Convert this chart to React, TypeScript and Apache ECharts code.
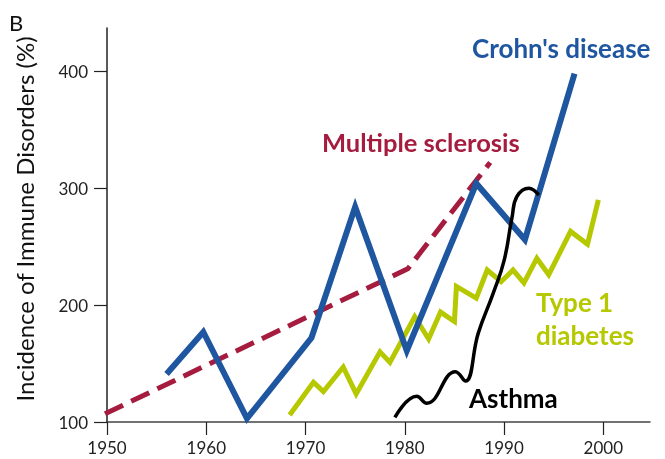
import React, { useEffect, useRef } from "react";
import * as echarts from "echarts";

const xTicks = [1950, 1960, 1970, 1980, 1990, 2000];
const yTicks = [100, 200, 300, 400];

const crohns: number[][] = [
  [1956.0, 141], [1959.7, 177], [1964.1, 103], [1970.6, 172], [1975.0, 284],
  [1980.2, 161], [1987.2, 304], [1992.1, 256], [1997.1, 398],
];
const sclerosis: number[][] = [
  [1949.8, 107], [1980.3, 231], [1988.6, 322],
];
const diabetes: number[][] = [
  [1968.4, 106], [1970.8, 134], [1971.8, 126], [1973.8, 147], [1975.1, 124],
  [1977.5, 160], [1978.5, 151], [1981.0, 190], [1982.4, 171], [1983.6, 194],
  [1985.0, 186], [1985.2, 216], [1987.2, 206], [1988.3, 230], [1989.7, 220],
  [1990.9, 230], [1992.0, 219], [1993.3, 240], [1994.5, 226], [1996.7, 263],
  [1998.4, 252], [1999.5, 290],
];
const asthma: number[][] = [
  [1979.0, 104], [1981.2, 122], [1982.2, 116], [1985.1, 143], [1986.1, 135],
  [1987.4, 176], [1988.9, 210], [1990.0, 238], [1990.8, 275],
  [1991.3, 293], [1992.5, 300], [1993.5, 294],
];

const BLUE = "#1f56a0";
const RED = "#a51c3e";
const GREEN = "#b5c800";
const FONT = "Lato";

export default function App() {
  const ref = useRef<HTMLDivElement>(null);
  useEffect(() => {
    if (!ref.current) return;
    const chart = echarts.init(ref.current, null, { renderer: "svg" });
    const label = (text: string, x: number, y: number, color: string, size: number) => ({
      type: "text",
      x,
      y,
      style: {
        text,
        fill: color,
        font: `bold ${size}px ${FONT}`,
        textAlign: "left",
        textVerticalAlign: "middle",
      },
    });
    chart.setOption({
      animation: false,
      grid: { left: 107, right: 15, top: 28, bottom: 37, outerBoundsMode: "none" },
      xAxis: {
        type: "value",
        min: 1950,
        max: 2004.7,
        splitLine: { show: false },
        axisLine: { lineStyle: { color: "#444", width: 1.5 } },
        axisTick: { length: 13, lineStyle: { color: "#222", width: 1.2 }, customValues: xTicks },
        axisLabel: {
          customValues: xTicks, margin: 17, fontSize: 17, color: "#222", fontFamily: FONT,
          formatter: (v: number) => String(v),
        },
      },
      yAxis: {
        type: "value",
        min: 100,
        max: 437,
        splitLine: { show: false },
        name: "Incidence of Immune Disorders (%)",
        nameLocation: "middle",
        nameGap: 71,
        nameTextStyle: { fontSize: 24, color: "#111", fontFamily: FONT, padding: [0, 0, 0, 12] },
        axisLine: { show: true, lineStyle: { color: "#222", width: 1.5 } },
        axisTick: { show: true, length: 13, lineStyle: { color: "#222", width: 1.2 }, customValues: yTicks },
        axisLabel: { customValues: yTicks, margin: 19, fontSize: 17, color: "#222", fontFamily: FONT },
      },
      series: [
        {
          type: "line", data: sclerosis, showSymbol: false, symbol: "none",
          lineStyle: { color: RED, width: 5, type: [20, 9], cap: "butt", join: "miter" },
        },
        {
          type: "line", data: diabetes, showSymbol: false, symbol: "none",
          lineStyle: { color: GREEN, width: 5, join: "miter" },
        },
        {
          type: "line", data: crohns, showSymbol: false, symbol: "none",
          lineStyle: { color: BLUE, width: 6, join: "miter" },
        },
        {
          type: "line", data: asthma, showSymbol: false, symbol: "none", smooth: 0.45,
          lineStyle: { color: "#000", width: 3.5 },
        },
      ],
      graphic: [
        { type: "text", x: 9, y: 22, style: { text: "B", fill: "#111", font: `22px ${FONT}`, textVerticalAlign: "middle" } },
        label("Crohn's disease", 472, 48, BLUE, 26),
        label("Multiple sclerosis", 322, 142, RED, 25.5),
        label("Type 1", 536, 302, GREEN, 26),
        label("diabetes", 536, 335, GREEN, 26),
        label("Asthma", 469, 398, "#000", 26),
      ],
    });
    return () => chart.dispose();
  }, []);
  return <div ref={ref} style={{ position: "fixed", left: 0, top: 0, width: 665, height: 459 }} />;
}
